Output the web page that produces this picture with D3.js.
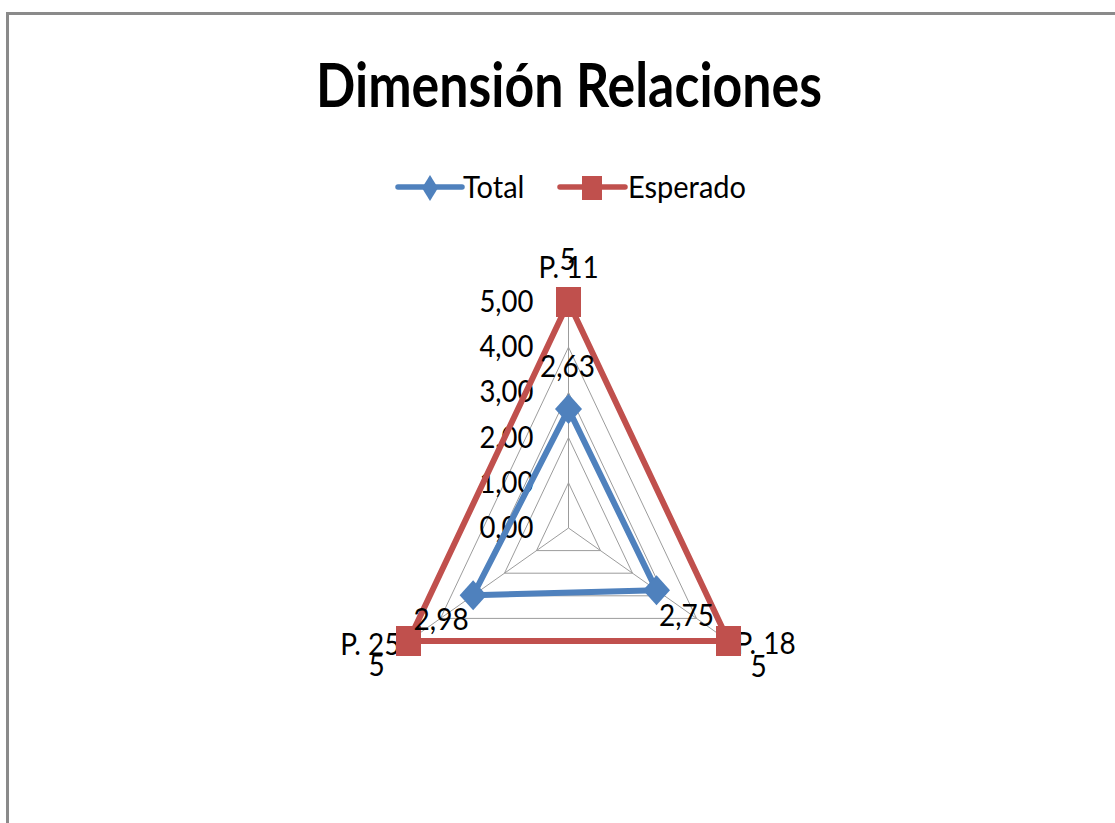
<!DOCTYPE html>
<html>
<head>
<meta charset="utf-8">
<script src="https://cdn.jsdelivr.net/npm/d3@7"></script>
<style>
  html, body { margin: 0; padding: 0; background: #fff; }
  svg { display: block; }
  text { font-family: Lato, "Noto Sans", sans-serif; fill: #000; }
</style>
</head>
<body>
<svg id="chart" width="1115" height="823"></svg>
<script>
// ---- data ----
const categories = ["P. 11", "P. 18", "P. 25"];
const totalValues = [2.63, 2.75, 2.98];
const esperadoValues = [5, 5, 5];
const tickValues = [0, 1, 2, 3, 4, 5];
const tickLabels = ["0,00", "1,00", "2,00", "3,00", "4,00", "5,00"];
const seriesNames = ["Total", "Esperado"];
const chartTitle = "Dimensión Relaciones";

// ---- layout / style ----
const W = 1115, H = 823;
const cx = 568.5, cy = 528, R = 226;
const kx = 0.8175;          // horizontal squeeze of the plot area
const blue = "#4F81BD", red = "#C0504D", grid = "#9C9C9C";
const fmt = v => d3.format(".2f")(v).replace(".", ",");
const fmtPlain = v => String(v).replace(".", ",");

const svg = d3.select("#chart");

// outer frame (top and left edges visible)
svg.append("path")
  .attr("d", `M7.5,${H} L7.5,13.5 L${W},13.5`)
  .attr("fill", "none").attr("stroke", "#8a8a8a").attr("stroke-width", 3);

// text helper: sy stretches glyphs vertically around the baseline
function label(g, s, x, y, size, anchor, sy, weight) {
  return g.append("text")
    .attr("transform", `translate(${x},${y}) scale(1,${sy})`)
    .attr("text-anchor", anchor || "middle")
    .style("font-size", size + "px")
    .style("font-weight", weight || "normal")
    .text(s);
}

// title
const titleEl = label(svg, chartTitle, 569, 107, 52, "middle", 1.18, "bold");
titleEl.attr("textLength", 506).attr("lengthAdjust", "spacingAndGlyphs");

// ---- scales ----
const r = d3.scaleLinear().domain([0, 5]).range([0, R]);
const angle = d3.scalePoint().domain(categories).range([0, 2 * Math.PI * (categories.length - 1) / categories.length]);
function pt(cat, v) {
  const a = angle(cat);
  return [cx + r(v) * Math.sin(a) * kx, cy - r(v) * Math.cos(a)];
}

const plot = svg.append("g");

// grid rings
tickValues.filter(t => t > 0).forEach(t => {
  plot.append("path")
    .attr("d", d3.line()(categories.map(c => pt(c, t))) + "Z")
    .attr("fill", "none").attr("stroke", grid).attr("stroke-width", 1);
});
// spokes
categories.forEach(c => {
  const p = pt(c, 5);
  plot.append("line")
    .attr("x1", cx).attr("y1", cy).attr("x2", p[0]).attr("y2", p[1])
    .attr("stroke", grid).attr("stroke-width", 1);
});

// radial tick labels
tickValues.forEach((t, i) => {
  label(plot, tickLabels[i], cx - 35, cy - r(t) + 10, 27.5, "end", 1.12);
});

// category labels
const catOffsets = [[0, -24, "middle"], [7, 13, "start"], [-8, 14, "end"]];
categories.forEach((c, i) => {
  const p = pt(c, 5);
  const o = catOffsets[i];
  label(plot, c, p[0] + o[0], p[1] + o[1], 28, o[2], 1.1);
});

// series
const series = [
  { name: seriesNames[0], values: totalValues, color: blue, marker: "diamond" },
  { name: seriesNames[1], values: esperadoValues, color: red, marker: "square" }
];

function markerPath(type, w, h) {
  if (type === "diamond") return `M0,${-h / 2} L${w / 2},0 L0,${h / 2} L${-w / 2},0 Z`;
  return `M${-w / 2},${-h / 2} h${w} v${h} h${-w} Z`;
}

series.forEach(s => {
  const pts = categories.map((c, i) => pt(c, s.values[i]));
  plot.append("path")
    .attr("d", d3.line()(pts) + "Z")
    .attr("fill", "none").attr("stroke", s.color).attr("stroke-width", 6)
    .attr("stroke-linejoin", "round");
});
series.forEach(s => {
  categories.forEach((c, i) => {
    const p = pt(c, s.values[i]);
    plot.append("path")
      .attr("transform", `translate(${p[0]},${p[1]})`)
      .attr("d", s.marker === "diamond" ? markerPath("diamond", 27, 30) : markerPath("square", 25, 30))
      .attr("fill", s.color);
  });
});

// data labels
const labelOffsets = [[-1, -32], [30, 36], [-32, 35]];
series.forEach(s => {
  categories.forEach((c, i) => {
    const p = pt(c, s.values[i]);
    const o = labelOffsets[i];
    const txt = s.name === "Total" ? fmt(s.values[i]) : fmtPlain(s.values[i]);
    label(plot, txt, p[0] + o[0], p[1] + o[1], 28, "middle", 1.1);
  });
});

// ---- legend ----
const legend = svg.append("g");
const legendItems = [
  { x0: 398, x1: 462, mx: 430, tx: 463, s: series[0], mw: 16, mh: 26 },
  { x0: 560, x1: 625, mx: 592, tx: 628, s: series[1], mw: 20, mh: 24 }
];
legendItems.forEach(it => {
  legend.append("line")
    .attr("x1", it.x0).attr("x2", it.x1).attr("y1", 187).attr("y2", 187)
    .attr("stroke", it.s.color).attr("stroke-width", 5.5).attr("stroke-linecap", "round");
  legend.append("path")
    .attr("transform", `translate(${it.mx},188)`)
    .attr("d", markerPath(it.s.marker, it.mw, it.mh))
    .attr("fill", it.s.color);
  label(legend, it.s.name, it.tx, 198, 29, "start", 1.06);
});
</script>
</body>
</html>
